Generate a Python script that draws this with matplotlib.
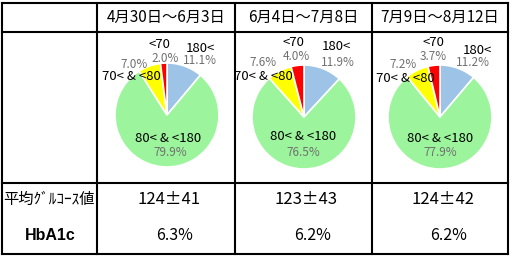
import matplotlib
matplotlib.use("Agg")
import matplotlib.pyplot as plt

plt.rcParams['font.family'] = ['Noto Sans CJK JP', 'DejaVu Sans']

periods = ['4月30日～6月3日', '6月4日～7月8日', '7月9日～8月12日']
categories = ['180<', '80< & <180', '70< & <80', '<70']
share_high = [11.1, 11.9, 11.2]
share_target = [79.9, 76.5, 77.9]
share_70_80 = [7.0, 7.6, 7.2]
share_low = [2.0, 4.0, 3.7]
mean_glucose = [124, 123, 124]
sd_glucose = [41, 43, 42]
hba1c = [6.3, 6.2, 6.2]

colors = ['#9dc3e6', '#9cf59c', '#ffff00', '#ff0000']
grey = '#707070'

# layout in pixels (y grows downwards)
W, H = 512, 257
col_x = [2, 97, 235, 372, 508]
row_y = [3, 32, 183, 254]
pie_centers = [(167, 115), (304, 117), (440, 117)]
pie_r = 52
# label offsets from pie centre: (name, pct) for each category
label_off = [
    [((33, -67), (33, -54)), ((1, 24), (3, 38)), ((-36, -38), (-33, -51)), ((-8, -70), (-2, -56))],
    [((32, -70), (34, -55)), ((-1, 19), (-1, 35)), ((-41, -41), (-41, -55)), ((-11, -74), (-8, -61))],
    [((37, -67), (33, -54)), ((0, 21), (0, 36)), ((-35, -39), (-37, -53)), ((-7, -75), (-7, -61))],
]

fig = plt.figure(figsize=(W / 100, H / 100), dpi=100)
ax = fig.add_axes([0, 0, 1, 1])

for i in range(3):
    vals = [share_high[i], share_target[i], share_70_80[i], share_low[i]]
    cx, cy = pie_centers[i]
    ax.pie(vals, colors=colors, startangle=-90, counterclock=True,
           radius=pie_r, center=(cx, cy), frame=True,
           wedgeprops=dict(edgecolor='white', linewidth=1.2))
    for k, v in enumerate(vals):
        (nx, ny), (px, py) = label_off[i][k]
        ax.text(cx + nx, cy + ny, categories[k], fontsize=9.5, color='black',
                ha='center', va='center')
        ax.text(cx + px, cy + py, f'{v:.1f}%', fontsize=8.5, color=grey,
                ha='center', va='center')

    xc = (col_x[i + 1] + col_x[i + 2]) / 2
    ax.text(xc, 17, periods[i], fontsize=11, ha='center', va='center')
    ax.text(xc + 3, 200, f'{mean_glucose[i]}±{sd_glucose[i]}', fontsize=12,
            ha='center', va='center')
    ax.text(xc + 9, 236, f'{hba1c[i]:.1f}%', fontsize=11.5, ha='center', va='center')

ax.text(3, 199, '平均ｸﾞﾙｺｰｽ値', fontsize=11, ha='left', va='center')
ax.text(50, 235, 'HbA1c', fontsize=11.5, fontweight='bold', family='Liberation Sans',
        ha='center', va='center')

# table grid
for x in col_x:
    ax.plot([x, x], [row_y[0], row_y[-1]], color='black', lw=1.5, solid_capstyle='projecting')
for y in row_y:
    ax.plot([col_x[0], col_x[-1]], [y, y], color='black', lw=1.5, solid_capstyle='projecting')

ax.set_xlim(0, W)
ax.set_ylim(H, 0)
ax.set_aspect('auto')
ax.axis('off')

fig.savefig('out.png', dpi=100, facecolor='white')
